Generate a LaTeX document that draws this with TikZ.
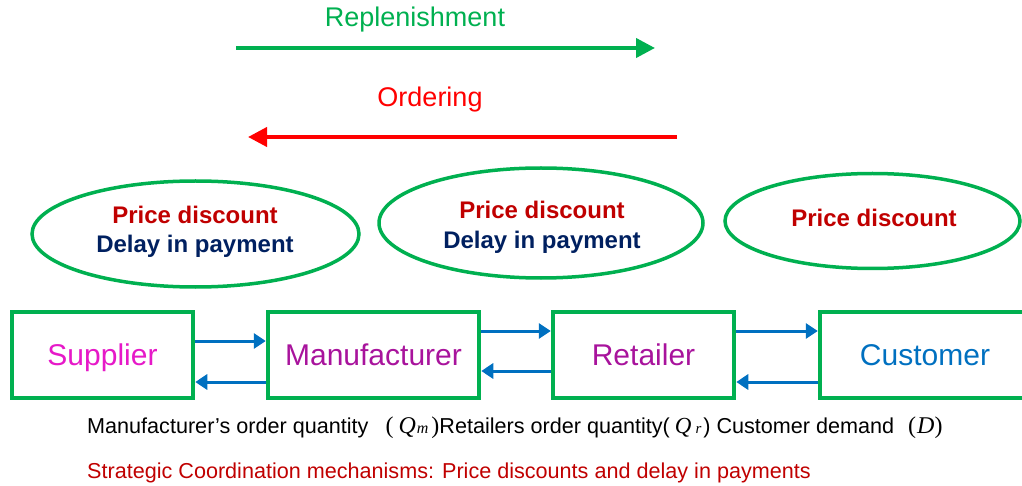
\documentclass[tikz,border=0pt]{standalone}
\usepackage{fontspec}
\setmainfont{Liberation Sans}
\newfontfamily\tms{Liberation Serif}
\usetikzlibrary{arrows.meta,shapes.geometric,calc}
\definecolor{ggreen}{HTML}{00B050}
\definecolor{gblue}{HTML}{0070C0}
\definecolor{dred}{HTML}{C00000}
\definecolor{navy}{HTML}{002060}
\definecolor{pinkm}{HTML}{E619C8}
\definecolor{purp}{HTML}{A8139C}
\newcommand{\mth}[1]{{\tms\itshape\fontsize{24}{26}\selectfont #1}}
\newcommand{\sml}[1]{{\tms\itshape\fontsize{16}{18}\selectfont #1}}
\tikzset{
  box/.style={draw=ggreen,line width=4.5pt,rectangle,minimum height=86pt,inner sep=0pt,
    text height=21.5pt,text depth=0pt,font=\fontsize{30}{34}\selectfont},
  oval/.style={draw=ggreen,line width=3.5pt,ellipse,inner sep=0pt},
  flow/.style={draw=gblue,line width=3pt,-{Triangle[length=12pt,width=15pt]}},
  bigarrow/.style={line width=4pt,-{Triangle[length=19pt,width=19pt]}},
  ovaltext/.style={font=\bfseries\fontsize{24}{28}\selectfont,text height=17pt,text depth=0pt},
  capt/.style={anchor=west,inner sep=0pt,font=\fontsize{21.6}{24}\selectfont},
}
\begin{document}
\begin{tikzpicture}[x=1pt,y=-1pt]
\useasboundingbox (0,0) rectangle (1022,486);
\clip (0,0) rectangle (1022,486);
% top arrows
\coordinate (r1) at (236,48);
\coordinate (r2) at (655,48);
\draw[bigarrow,draw=ggreen,fill=ggreen] (r1) -- (r2);
\node[text=ggreen,font=\fontsize{27}{30}\selectfont] (rep) at (415,20) {Replenishment};
\coordinate (o1) at (677,137);
\coordinate (o2) at (248,137);
\draw[bigarrow,draw=red,fill=red] (o1) -- (o2);
\node[text=red,font=\fontsize{27}{30}\selectfont] (ord) at (430,100) {Ordering};
% ellipses
\node[oval,minimum width=327pt,minimum height=106pt] (e1) at (195.5,234) {};
\node[oval,minimum width=324pt,minimum height=110pt] (e2) at (541,223) {};
\node[oval,minimum width=295pt,minimum height=95pt] (e3) at (872.5,221) {};
\node[ovaltext,text=dred] (p1) at (195,215) {Price discount};
\node[ovaltext,text=navy] (d1) at (195,244) {Delay in payment};
\node[ovaltext,text=dred] (p2) at (542,210) {Price discount};
\node[ovaltext,text=navy] (d2) at (542,240) {Delay in payment};
\node[ovaltext,text=dred] (p3) at (874,218) {Price discount};
% boxes
\node[box,minimum width=181pt,text=pinkm] (sup) at (102.5,355) {Supplier};
\node[box,minimum width=211pt,text=purp] (man) at (373.5,355) {Manufacturer};
\node[box,minimum width=181pt,text=purp] (ret) at (643.5,355) {Retailer};
\node[box,minimum width=210pt,text=gblue] (cus) at (925,355) {Customer};
% flows
\draw[flow] ($(sup.east)+(0,-14)$) -- ($(man.west)+(0,-14)$);
\draw[flow] ($(man.west)+(0,27)$) -- ($(sup.east)+(0,27)$);
\draw[flow] ($(man.east)+(0,-24)$) -- ($(ret.west)+(0,-24)$);
\draw[flow] ($(ret.west)+(0,16)$) -- ($(man.east)+(0,16)$);
\draw[flow] ($(ret.east)+(0,-24)$) -- ($(cus.west)+(0,-24)$);
\draw[flow] ($(cus.west)+(0,27)$) -- ($(ret.east)+(0,27)$);
% captions
\node[capt] (cap1) at (87,428)
  {Manufacturer’s order quantity\hspace{17pt}{\tms\fontsize{24}{26}\selectfont(}\kern5pt\mth{Q}\kern1pt\sml{m}\kern3pt{\tms\fontsize{24}{26}\selectfont)}Retailers order quantity(\kern5pt{\tms\itshape\fontsize{23}{24}\selectfont Q}\kern4pt{\tms\itshape\fontsize{15}{16}\selectfont r}\kern2pt) Customer demand\hspace{14pt}{\tms\fontsize{24}{26}\selectfont(\kern1pt\textit{D})}};
\node[capt,text=dred] (cap2) at (87,473)
  {Strategic Coordination mechanisms: Price discounts and delay in payments};
\end{tikzpicture}
\end{document}
